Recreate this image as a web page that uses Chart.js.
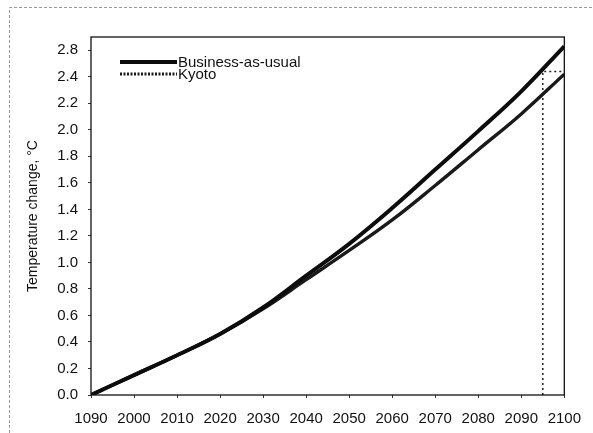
<!DOCTYPE html>
<html>
<head>
<meta charset="utf-8">
<script src="https://cdn.jsdelivr.net/npm/chart.js@4/dist/chart.umd.min.js"></script>
<style>
    html, body { margin: 0; padding: 0; background: #ffffff; }
    #wrap { width: 593px; height: 433px; position: relative; }
</style>
</head>
<body>
<div id="wrap"><canvas id="temperature" width="593" height="433"></canvas></div>
<script>
// Years on the x axis and the modelled warming for both scenarios
let years = [1990, 2000, 2010, 2020, 2030, 2040, 2050, 2060, 2070, 2080, 2090, 2100];
let business_as_usual = [0, 0.15, 0.30, 0.46, 0.66, 0.90, 1.14, 1.41, 1.70, 1.99, 2.29, 2.63];
let kyoto = [0, 0.15, 0.30, 0.46, 0.65, 0.87, 1.09, 1.32, 1.58, 1.85, 2.12, 2.42];

// Dotted guide: year when business-as-usual reaches the Kyoto level of 2100
let delay_x = [2095, 2095, 2100];
let delay_y = [0, 2.44, 2.44];

// Tick labels as printed on the axes, one per 10 years / 0.2 degrees
let x_tick_labels = ['1090', '2000', '2010', '2020', '2030', '2040', '2050', '2060', '2070', '2080', '2090', '2100'];
let y_tick_labels = ['0.0', '0.2', '0.4', '0.6', '0.8', '1.0', '1.2', '1.4', '1.6', '1.8', '2.0', '2.2', '2.4', '2.8'];

let series_names = ['Business-as-usual', 'Kyoto'];


function toPoints(xs, ys) {
    let points = [];
    for (let i = 0; i < xs.length; i++) {
        points.push({x: xs[i], y: ys[i]});
    }
    return points;
}


/**
 * Box round the plot, thin frame round the whole figure
 * and the legend drawn inside the top-left corner
 */
let framePlugin = {
    id: 'frame',
    beforeDraw: function (chart) {
        let ctx = chart.ctx;
        ctx.save();
        ctx.strokeStyle = '#9a9a9a';
        ctx.lineWidth = 1;
        ctx.setLineDash([3, 2]);
        ctx.beginPath();
        ctx.moveTo(9.5, 433);
        ctx.lineTo(9.5, 7.5);
        ctx.lineTo(593, 7.5);
        ctx.stroke();
        ctx.restore();
    },
    afterDraw: function (chart) {
        let ctx = chart.ctx;
        let area = chart.chartArea;
        ctx.save();
        ctx.strokeStyle = '#111111';
        ctx.lineWidth = 1.3;
        ctx.strokeRect(area.left, area.top, area.right - area.left, area.bottom - area.top);

        // legend
        let x0 = area.left + 29;
        let rows = [area.top + 25, area.top + 37];
        ctx.font = '15px "Liberation Sans", Arial, sans-serif';
        ctx.textBaseline = 'middle';
        ctx.fillStyle = '#111111';
        for (let i = 0; i < 2; i++) {
            let ds = chart.data.datasets[i];
            ctx.strokeStyle = ds.borderColor;
            ctx.lineWidth = i === 0 ? 4 : 3;
            ctx.setLineDash(i === 0 ? [] : [2, 1.5]);
            ctx.beginPath();
            ctx.moveTo(x0, rows[i]);
            ctx.lineTo(x0 + 57, rows[i]);
            ctx.stroke();
            ctx.fillText(ds.label, x0 + 58, rows[i] + 1);
        }
        ctx.restore();
    }
};


window.addEventListener('load', function () {
    let ctx = document.getElementById('temperature').getContext('2d');
    let font = {family: '"Liberation Sans", Arial, sans-serif', size: 15};

    let chart = new Chart(ctx, {
        type: 'line',
        data: {
            datasets: [{
                label: series_names[0],
                data: toPoints(years, business_as_usual),
                borderColor: '#0c0c0c',
                borderWidth: 4,
                pointRadius: 0,
                tension: 0.4
            }, {
                label: series_names[1],
                data: toPoints(years, kyoto),
                borderColor: '#1a1a1a',
                borderWidth: 3.4,
                pointRadius: 0,
                tension: 0.4
            }, {
                label: 'delay',
                data: toPoints(delay_x, delay_y),
                borderColor: '#222222',
                borderWidth: 1.5,
                borderDash: [2, 3],
                pointRadius: 0,
                tension: 0
            }]
        },
        options: {
            responsive: false,
            animation: false,
            events: [],
            layout: {padding: {left: 0, top: 37, right: 19, bottom: 0}},
            plugins: {
                legend: {display: false},
                tooltip: {enabled: false}
            },
            scales: {
                x: {
                    type: 'linear',
                    min: 1990,
                    max: 2100,
                    border: {display: false},
                    grid: {drawOnChartArea: false, tickLength: 3, color: '#333333'},
                    ticks: {
                        padding: 12,
                        color: '#111111',
                        font: font,
                        maxRotation: 0,
                        autoSkip: false,
                        callback: function (value, index) {
                            return x_tick_labels[index];
                        }
                    },
                    afterBuildTicks: function (scale) {
                        scale.ticks = years.map(function (yr) { return {value: yr}; });
                    },
                    afterFit: function (scale) { scale.height = 38; }
                },
                y: {
                    min: 0,
                    max: 2.7,
                    border: {display: false},
                    grid: {drawOnChartArea: false, tickLength: 3, color: '#333333'},
                    ticks: {
                        padding: 10,
                        color: '#111111',
                        font: font,
                        autoSkip: false,
                        callback: function (value, index) {
                            return y_tick_labels[index];
                        }
                    },
                    afterBuildTicks: function (scale) {
                        scale.ticks = y_tick_labels.map(function (label, i) { return {value: i * 0.2}; });
                    },
                    title: {
                        display: true,
                        text: 'Temperature change, °C',
                        color: '#111111',
                        font: {family: font.family, size: 14},
                        padding: {top: 25, bottom: 0}
                    },
                    afterFit: function (scale) { scale.width = 91; }
                }
            }
        },
        plugins: [framePlugin]
    });
});
</script>
</body>
</html>
